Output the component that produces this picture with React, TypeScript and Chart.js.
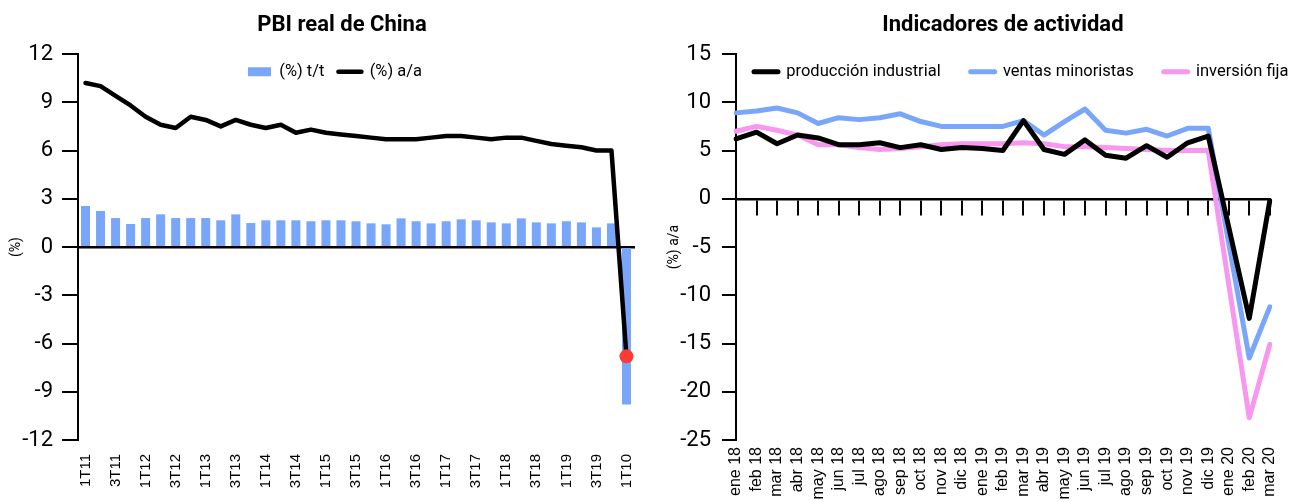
import React, { useEffect, useRef } from 'react';
import { Chart, registerables } from 'chart.js';

Chart.register(...registerables);

// ---------- Data: PBI real de China ----------
const quarters = [
  '1T11', '2T11', '3T11', '4T11',
  '1T12', '2T12', '3T12', '4T12',
  '1T13', '2T13', '3T13', '4T13',
  '1T14', '2T14', '3T14', '4T14',
  '1T15', '2T15', '3T15', '4T15',
  '1T16', '2T16', '3T16', '4T16',
  '1T17', '2T17', '3T17', '4T17',
  '1T18', '2T18', '3T18', '4T18',
  '1T19', '2T19', '3T19', '4T19',
  '1T10',
];
const qoqGrowth = [
  2.55, 2.24, 1.8, 1.43,
  1.8, 2.03, 1.8, 1.8,
  1.8, 1.66, 2.03, 1.49,
  1.66, 1.66, 1.66, 1.6,
  1.66, 1.66, 1.6, 1.47,
  1.41, 1.78, 1.6, 1.47,
  1.6, 1.72, 1.66, 1.53,
  1.47, 1.78, 1.53, 1.47,
  1.6, 1.53, 1.22, 1.47,
  -9.8,
];
const yoyGrowth = [
  10.2, 10.0, 9.4, 8.8,
  8.1, 7.6, 7.4, 8.1,
  7.9, 7.5, 7.9, 7.6,
  7.4, 7.6, 7.1, 7.3,
  7.1, 7.0, 6.9, 6.8,
  6.7, 6.7, 6.7, 6.8,
  6.9, 6.9, 6.8, 6.7,
  6.8, 6.8, 6.6, 6.4,
  6.3, 6.2, 6.0, 6.0,
  -6.8,
];
const gdpSeriesNames = ['(%) t/t', '(%) a/a'];

// ---------- Data: Indicadores de actividad ----------
const months = [
  'ene 18', 'feb 18', 'mar 18', 'abr 18', 'may 18', 'jun 18', 'jul 18', 'ago 18', 'sep 18',
  'oct 18', 'nov 18', 'dic 18', 'ene 19', 'feb 19', 'mar 19', 'abr 19', 'may 19', 'jun 19',
  'jul 19', 'ago 19', 'sep 19', 'oct 19', 'nov 19', 'dic 19', 'ene 20', 'feb 20', 'mar 20',
];
const industrialProduction = [
  6.2, 6.9, 5.7, 6.6, 6.3, 5.6, 5.6, 5.8, 5.3,
  5.6, 5.1, 5.3, 5.2, 5.0, 8.1, 5.1, 4.6, 6.1,
  4.5, 4.2, 5.5, 4.3, 5.8, 6.5, null, -12.4, -0.2,
];
const retailSales = [
  8.9, 9.1, 9.4, 8.9, 7.8, 8.4, 8.2, 8.4, 8.8,
  8.0, 7.5, 7.5, 7.5, 7.5, 8.1, 6.6, 8.0, 9.3,
  7.1, 6.8, 7.2, 6.5, 7.3, 7.3, null, -16.5, -11.2,
];
const fixedInvestment = [
  7.0, 7.5, 7.1, 6.6, 5.6, 5.6, 5.3, 5.1, 5.2,
  5.4, 5.6, 5.7, 5.7, 5.7, 5.8, 5.7, 5.4, 5.4,
  5.3, 5.2, 5.1, 5.0, 5.0, 5.0, null, -22.7, -15.1,
];
const activityNames = ['producción industrial', 'ventas minoristas', 'inversión fija'];

// ---------- Styles ----------
const BLUE = '#7aa6fa';
const PINK = '#f797f0';
const BLACK = '#000000';
const RED = '#ff3a33';
const SANS = 'Roboto';
const LABEL_SANS = "'Liberation Sans', Arial, sans-serif";

Chart.defaults.font.family = SANS;
Chart.defaults.color = '#000';

// Legend drawn over the top of the plot area without reserving layout space
const legendOverlay = {
  id: 'legendOverlay',
  beforeLayout(chart: any) {
    const lg: any = chart.legend;
    if (!lg || lg.__overlay) return;
    lg.__overlay = true;
    const proto = Object.getPrototypeOf(lg);
    lg.fit = function () {
      proto.fit.call(this);
      this.height = 0;
    };
    lg.draw = function () {
      if (this.options.display) this._draw();
    };
  },
  afterLayout(chart: any, _args: any, opts: any) {
    const lg: any = chart.legend;
    if (!lg) return;
    const pad = lg.options.labels.padding;
    lg.left = opts.x - pad;
    lg.right = lg.left + 3000;
    lg.top = opts.y - pad;
    lg.bottom = lg.top;
  },
};

function legendLabels(chart: any) {
  const items = (Chart.defaults.plugins.legend.labels as any).generateLabels(chart);
  return items
    .map((it: any) => {
      const ds: any = chart.data.datasets[it.datasetIndex];
      if (ds.type === 'line') {
        return {
          ...it,
          pointStyle: 'line',
          strokeStyle: ds.borderColor,
          fillStyle: ds.borderColor,
          lineWidth: ds.borderWidth,
          lineCap: 'round',
        };
      }
      return { ...it, pointStyle: 'rect', fillStyle: ds.backgroundColor, lineWidth: 0 };
    })
    .sort((a: any, b: any) => a.datasetIndex - b.datasetIndex);
}

function makeGdpConfig(): any {
  const last = yoyGrowth.length - 1;
  return {
    type: 'bar',
    data: {
      labels: quarters,
      datasets: [
        {
          type: 'bar',
          label: gdpSeriesNames[0],
          data: qoqGrowth,
          backgroundColor: BLUE,
          borderWidth: 0,
          barPercentage: 0.6,
          categoryPercentage: 1.0,
          xAxisID: 'x',
          yAxisID: 'y',
          order: 1,
        },
        {
          type: 'line',
          label: gdpSeriesNames[1],
          data: yoyGrowth,
          borderColor: BLACK,
          backgroundColor: BLACK,
          borderWidth: 4.5,
          borderJoinStyle: 'round',
          borderCapStyle: 'round',
          tension: 0,
          pointRadius: (ctx: any) => (ctx.dataIndex === last ? 7 : 0),
          pointBackgroundColor: RED,
          pointBorderWidth: 0,
          xAxisID: 'x',
          yAxisID: 'y',
          order: 0,
        },
      ],
    },
    options: {
      animation: false,
      responsive: true,
      maintainAspectRatio: false,
      layout: { padding: { left: 0, right: 0, top: 0, bottom: 0 } },
      plugins: {
        tooltip: { enabled: false },
        title: {
          display: true,
          text: 'PBI real de China',
          font: { family: SANS, size: 22, weight: 'bold' },
          color: '#000',
          padding: { top: 12, bottom: 15.6 },
          fullSize: true,
        },
        legend: {
          display: true,
          position: 'top',
          align: 'start',
          labels: {
            usePointStyle: true,
            pointStyleWidth: 23,
            boxHeight: 9,
            padding: 14,
            font: { family: SANS, size: 16.5 },
            color: '#000',
            generateLabels: legendLabels,
          },
        },
        legendOverlay: { x: 248, y: 63.5 },
      },
      scales: {
        x: {
          type: 'category',
          position: { y: 0 },
          offset: true,
          grid: { display: true, drawOnChartArea: false, drawTicks: false, color: BLACK, lineWidth: 2 },
          border: { display: true, color: BLACK, width: 2.5 },
          ticks: { display: false },
          afterFit: (s: any) => { s.height = 0; },
        },
        xl: {
          type: 'category',
          position: 'bottom',
          offset: true,
          grid: { display: false, drawTicks: false },
          border: { display: false },
          ticks: {
            autoSkip: false,
            maxRotation: 90,
            minRotation: 90,
            padding: 14,
            font: { family: LABEL_SANS, size: 15 },
            color: '#000',
            callback: (_v: any, i: number) => (i % 2 === 0 ? quarters[i] : ''),
          },
          afterFit: (s: any) => { s.height = 62; },
        },
        y: {
          type: 'linear',
          position: 'left',
          min: -12,
          max: 12,
          ticks: { stepSize: 3, padding: 9, font: { family: SANS, size: 22 }, color: '#000' },
          grid: { display: true, drawOnChartArea: false, drawTicks: true, tickLength: 16, color: BLACK, lineWidth: 2 },
          border: { display: true, color: BLACK, width: 2 },
          title: { display: true, text: '(%)', font: { family: SANS, size: 14 }, color: '#000', padding: { top: 8, bottom: 0 } },
          afterFit: (s: any) => { s.width = 78; },
        },
        // empty spacer on the right so the title stays centred on the whole panel
        spacer: {
          type: 'linear',
          position: 'right',
          display: true,
          grid: { display: false, drawTicks: false },
          border: { display: false },
          ticks: { display: false },
          afterFit: (s: any) => { s.width = 50; },
        },
      },
    },
    plugins: [legendOverlay],
  };
}

function makeActivityConfig(): any {
  const line = (label: string, data: (number | null)[], color: string) => ({
    type: 'line',
    label,
    data,
    borderColor: color,
    backgroundColor: color,
    borderWidth: 5,
    borderJoinStyle: 'round',
    borderCapStyle: 'round',
    tension: 0,
    pointRadius: 0,
    spanGaps: true,
    xAxisID: 'x',
    yAxisID: 'y',
  });
  return {
    type: 'line',
    data: {
      labels: months,
      datasets: [
        line(activityNames[0], industrialProduction, BLACK),
        line(activityNames[1], retailSales, BLUE),
        line(activityNames[2], fixedInvestment, PINK),
      ],
    },
    options: {
      animation: false,
      responsive: true,
      maintainAspectRatio: false,
      layout: { padding: { left: 0, right: 14, top: 0, bottom: 0 } },
      plugins: {
        tooltip: { enabled: false },
        title: {
          display: true,
          text: 'Indicadores de actividad',
          font: { family: SANS, size: 22, weight: 'bold' },
          color: '#000',
          padding: { top: 12, bottom: 15.6 },
          fullSize: false,
        },
        legend: {
          display: true,
          position: 'top',
          align: 'start',
          labels: {
            usePointStyle: true,
            pointStyleWidth: 24,
            boxHeight: 10,
            padding: 30,
            font: { family: SANS, size: 16.5 },
            color: '#000',
            generateLabels: legendLabels,
          },
        },
        legendOverlay: { x: 98, y: 63.5 },
      },
      scales: {
        x: {
          type: 'category',
          position: { y: 0 },
          offset: false,
          grid: { display: true, drawOnChartArea: false, drawTicks: true, tickLength: 15, color: BLACK, lineWidth: 2 },
          border: { display: true, color: BLACK, width: 2.5 },
          ticks: { display: false },
          afterFit: (s: any) => { s.height = 0; },
        },
        xl: {
          type: 'category',
          position: 'bottom',
          offset: false,
          grid: { display: false, drawTicks: false },
          border: { display: false },
          ticks: {
            autoSkip: false,
            maxRotation: 90,
            minRotation: 90,
            padding: 7,
            font: { family: LABEL_SANS, size: 16 },
            color: '#000',
          },
          afterFit: (s: any) => { s.height = 62; },
        },
        y: {
          type: 'linear',
          position: 'left',
          min: -25,
          max: 15,
          ticks: { stepSize: 5, padding: 11, font: { family: SANS, size: 22 }, color: '#000' },
          grid: { display: true, drawOnChartArea: false, drawTicks: true, tickLength: 14, color: BLACK, lineWidth: 2 },
          border: { display: true, color: BLACK, width: 2 },
          title: { display: true, text: '(%) a/a', font: { family: SANS, size: 14 }, color: '#000', padding: { top: 10, bottom: 0 } },
          afterFit: (s: any) => { s.width = 80; },
        },
      },
    },
    plugins: [legendOverlay],
  };
}

function ChartBox({ makeConfig, style }: { makeConfig: () => any; style: React.CSSProperties }) {
  const ref = useRef<HTMLCanvasElement>(null);
  useEffect(() => {
    if (!ref.current) return;
    const chart = new Chart(ref.current, makeConfig());
    return () => chart.destroy();
  }, []);
  return (
    <div style={style}>
      <canvas ref={ref} />
    </div>
  );
}

export default function App() {
  return (
    <div
      style={{
        position: 'fixed',
        left: 0,
        top: 0,
        width: 1296,
        height: 502,
        background: '#ffffff',
        overflow: 'hidden',
      }}
    >
      <ChartBox
        makeConfig={makeGdpConfig}
        style={{ position: 'absolute', left: 0, top: 0, width: 684, height: 502 }}
      />
      <ChartBox
        makeConfig={makeActivityConfig}
        style={{ position: 'absolute', left: 656, top: 0, width: 640, height: 502 }}
      />
    </div>
  );
}
